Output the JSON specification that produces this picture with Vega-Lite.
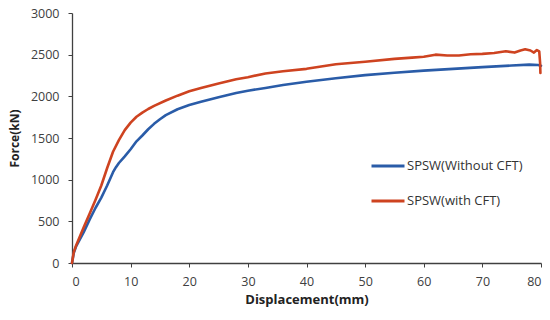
{
  "$schema": "https://vega.github.io/schema/vega-lite/v6.json",
  "width": 469,
  "height": 250,
  "autosize": {"type": "none"},
  "padding": {"left": 72, "top": 13, "right": 9, "bottom": 57},
  "background": "white",
  "config": {
    "view": {"stroke": null},
    "font": "Open Sans"
  },
  "data": {
    "values": [
      {"series": "SPSW(Without CFT)", "d": 0, "f": 0},
      {"series": "SPSW(Without CFT)", "d": 0.3, "f": 120},
      {"series": "SPSW(Without CFT)", "d": 0.7, "f": 200},
      {"series": "SPSW(Without CFT)", "d": 2, "f": 370},
      {"series": "SPSW(Without CFT)", "d": 3, "f": 520},
      {"series": "SPSW(Without CFT)", "d": 4, "f": 660},
      {"series": "SPSW(Without CFT)", "d": 5, "f": 785},
      {"series": "SPSW(Without CFT)", "d": 6, "f": 930},
      {"series": "SPSW(Without CFT)", "d": 7, "f": 1090},
      {"series": "SPSW(Without CFT)", "d": 7.5, "f": 1150},
      {"series": "SPSW(Without CFT)", "d": 8, "f": 1200},
      {"series": "SPSW(Without CFT)", "d": 9, "f": 1280},
      {"series": "SPSW(Without CFT)", "d": 10, "f": 1365},
      {"series": "SPSW(Without CFT)", "d": 11, "f": 1460},
      {"series": "SPSW(Without CFT)", "d": 12, "f": 1530},
      {"series": "SPSW(Without CFT)", "d": 13, "f": 1605},
      {"series": "SPSW(Without CFT)", "d": 14, "f": 1670},
      {"series": "SPSW(Without CFT)", "d": 15, "f": 1725},
      {"series": "SPSW(Without CFT)", "d": 16, "f": 1775},
      {"series": "SPSW(Without CFT)", "d": 18, "f": 1845},
      {"series": "SPSW(Without CFT)", "d": 20, "f": 1895},
      {"series": "SPSW(Without CFT)", "d": 22, "f": 1935},
      {"series": "SPSW(Without CFT)", "d": 25, "f": 1990},
      {"series": "SPSW(Without CFT)", "d": 28, "f": 2040},
      {"series": "SPSW(Without CFT)", "d": 30, "f": 2068},
      {"series": "SPSW(Without CFT)", "d": 33, "f": 2100},
      {"series": "SPSW(Without CFT)", "d": 36, "f": 2135},
      {"series": "SPSW(Without CFT)", "d": 40, "f": 2175},
      {"series": "SPSW(Without CFT)", "d": 45, "f": 2218},
      {"series": "SPSW(Without CFT)", "d": 50, "f": 2255},
      {"series": "SPSW(Without CFT)", "d": 55, "f": 2283},
      {"series": "SPSW(Without CFT)", "d": 60, "f": 2308},
      {"series": "SPSW(Without CFT)", "d": 65, "f": 2330},
      {"series": "SPSW(Without CFT)", "d": 70, "f": 2350},
      {"series": "SPSW(Without CFT)", "d": 75, "f": 2370},
      {"series": "SPSW(Without CFT)", "d": 78, "f": 2380},
      {"series": "SPSW(Without CFT)", "d": 79.5, "f": 2376},
      {"series": "SPSW(Without CFT)", "d": 80, "f": 2368},
      {"series": "SPSW(with CFT)", "d": 0, "f": 0},
      {"series": "SPSW(with CFT)", "d": 0.3, "f": 130},
      {"series": "SPSW(with CFT)", "d": 0.7, "f": 210},
      {"series": "SPSW(with CFT)", "d": 2, "f": 430},
      {"series": "SPSW(with CFT)", "d": 3, "f": 590},
      {"series": "SPSW(with CFT)", "d": 4, "f": 755},
      {"series": "SPSW(with CFT)", "d": 5, "f": 930},
      {"series": "SPSW(with CFT)", "d": 6, "f": 1140},
      {"series": "SPSW(with CFT)", "d": 7, "f": 1335},
      {"series": "SPSW(with CFT)", "d": 8, "f": 1475},
      {"series": "SPSW(with CFT)", "d": 9, "f": 1595},
      {"series": "SPSW(with CFT)", "d": 10, "f": 1685},
      {"series": "SPSW(with CFT)", "d": 11, "f": 1755},
      {"series": "SPSW(with CFT)", "d": 12, "f": 1805},
      {"series": "SPSW(with CFT)", "d": 13, "f": 1848},
      {"series": "SPSW(with CFT)", "d": 14, "f": 1885},
      {"series": "SPSW(with CFT)", "d": 16, "f": 1950},
      {"series": "SPSW(with CFT)", "d": 18, "f": 2008},
      {"series": "SPSW(with CFT)", "d": 20, "f": 2060},
      {"series": "SPSW(with CFT)", "d": 22, "f": 2100},
      {"series": "SPSW(with CFT)", "d": 25, "f": 2155},
      {"series": "SPSW(with CFT)", "d": 28, "f": 2205},
      {"series": "SPSW(with CFT)", "d": 30, "f": 2230},
      {"series": "SPSW(with CFT)", "d": 33, "f": 2275},
      {"series": "SPSW(with CFT)", "d": 36, "f": 2300},
      {"series": "SPSW(with CFT)", "d": 40, "f": 2330},
      {"series": "SPSW(with CFT)", "d": 45, "f": 2385},
      {"series": "SPSW(with CFT)", "d": 50, "f": 2415},
      {"series": "SPSW(with CFT)", "d": 55, "f": 2450},
      {"series": "SPSW(with CFT)", "d": 58, "f": 2465},
      {"series": "SPSW(with CFT)", "d": 60, "f": 2475},
      {"series": "SPSW(with CFT)", "d": 62, "f": 2500},
      {"series": "SPSW(with CFT)", "d": 64, "f": 2490},
      {"series": "SPSW(with CFT)", "d": 66, "f": 2490},
      {"series": "SPSW(with CFT)", "d": 68, "f": 2505},
      {"series": "SPSW(with CFT)", "d": 70, "f": 2510},
      {"series": "SPSW(with CFT)", "d": 72, "f": 2520},
      {"series": "SPSW(with CFT)", "d": 74, "f": 2540},
      {"series": "SPSW(with CFT)", "d": 75.5, "f": 2525},
      {"series": "SPSW(with CFT)", "d": 76.5, "f": 2550},
      {"series": "SPSW(with CFT)", "d": 77.3, "f": 2565},
      {"series": "SPSW(with CFT)", "d": 78.2, "f": 2550},
      {"series": "SPSW(with CFT)", "d": 78.8, "f": 2525},
      {"series": "SPSW(with CFT)", "d": 79.3, "f": 2555},
      {"series": "SPSW(with CFT)", "d": 79.7, "f": 2540},
      {"series": "SPSW(with CFT)", "d": 79.85, "f": 2400},
      {"series": "SPSW(with CFT)", "d": 79.9, "f": 2280}
    ]
  },
  "mark": {"type": "line", "strokeWidth": 2.6, "interpolate": "linear", "strokeJoin": "round", "strokeCap": "round"},
  "encoding": {
    "x": {
      "field": "d",
      "type": "quantitative",
      "scale": {"domain": [0, 80], "nice": false, "zero": true},
      "axis": {
        "title": "Displacement(mm)",
        "values": [0, 10, 20, 30, 40, 50, 60, 70, 80],
        "format": "d",
        "grid": false,
        "domainColor": "#404040",
        "domainWidth": 1.3,
        "tickColor": "#404040",
        "tickSize": 4,
        "labelFont": "Open Sans",
        "labelFontSize": 12.5,
        "labelColor": "#404040",
        "labelPadding": 8,
        "titleFont": "Open Sans",
        "titleFontSize": 13,
        "titleFontWeight": "bold",
        "titleColor": "#222222",
        "titlePadding": 6
      }
    },
    "y": {
      "field": "f",
      "type": "quantitative",
      "scale": {"domain": [0, 3000], "nice": false},
      "axis": {
        "title": "Force(kN)",
        "values": [0, 500, 1000, 1500, 2000, 2500, 3000],
        "format": "d",
        "grid": false,
        "domainColor": "#404040",
        "domainWidth": 1.3,
        "tickColor": "#404040",
        "tickSize": 4,
        "labelFont": "Open Sans",
        "labelFontSize": 12.5,
        "labelColor": "#404040",
        "labelPadding": 9,
        "titleFont": "Open Sans",
        "titleFontSize": 12,
        "titleFontWeight": "bold",
        "titleColor": "#222222",
        "titlePadding": 9
      }
    },
    "color": {
      "field": "series",
      "type": "nominal",
      "scale": {
        "domain": ["SPSW(Without CFT)", "SPSW(with CFT)"],
        "range": ["#2A5CA8", "#CE4320"]
      },
      "legend": {
        "title": null,
        "orient": "none",
        "legendX": 298,
        "legendY": 135,
        "symbolType": "stroke",
        "symbolSize": 1089,
        "symbolStrokeWidth": 3,
        "rowPadding": 10,
        "labelOffset": 1,
        "labelFont": "Open Sans",
        "labelFontSize": 13,
        "labelColor": "#333333"
      }
    }
  }
}
